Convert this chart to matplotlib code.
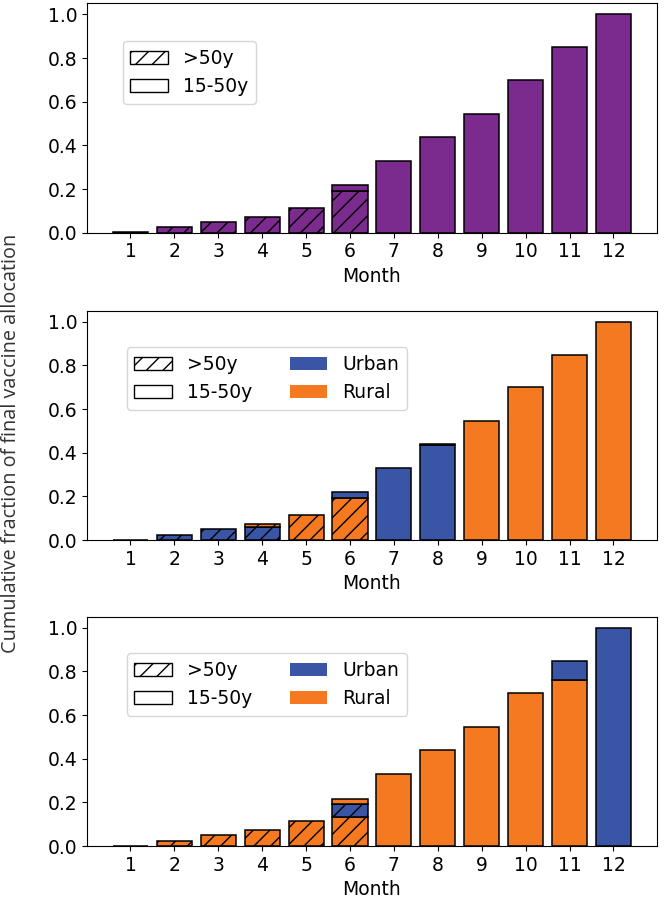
import matplotlib
matplotlib.use("Agg")
import matplotlib.pyplot as plt
from matplotlib.patches import Patch
import numpy as np

months = np.arange(1, 13)
month_labels = [str(m) for m in months]

# Panel 1: single group, layers (>50y, 15-50y)
p1_old = [0.002, 0.025, 0.050, 0.073, 0.113, 0.193, 0, 0, 0, 0, 0, 0]
p1_young = [0, 0, 0, 0, 0, 0.026, 0.330, 0.439, 0.543, 0.700, 0.849, 1.000]

# Panel 2: layers stacked in order (Urban >50y, Rural >50y, Urban 15-50y, Rural 15-50y)
p2_urban_old = [0.002, 0.025, 0.050, 0.058, 0, 0, 0, 0, 0, 0, 0, 0]
p2_rural_old = [0, 0, 0, 0.015, 0.113, 0.193, 0, 0, 0, 0, 0, 0]
p2_urban_young = [0, 0, 0, 0, 0, 0.026, 0.330, 0.433, 0, 0, 0, 0]
p2_rural_young = [0, 0, 0, 0, 0, 0, 0, 0.006, 0.543, 0.700, 0.849, 1.000]

# Panel 3: layers stacked in order (Rural >50y, Urban >50y, Rural 15-50y, Urban 15-50y)
p3_rural_old = [0.002, 0.025, 0.050, 0.073, 0.113, 0.132, 0, 0, 0, 0, 0, 0]
p3_urban_old = [0, 0, 0, 0, 0, 0.061, 0, 0, 0, 0, 0, 0]
p3_rural_young = [0, 0, 0, 0, 0, 0.023, 0.330, 0.439, 0.543, 0.700, 0.760, 0]
p3_urban_young = [0, 0, 0, 0, 0, 0, 0, 0, 0, 0, 0.089, 1.000]

PURPLE = "#7b2a8e"
BLUE = "#3a55a6"
ORANGE = "#f47920"

plt.rcParams["font.size"] = 13.5
plt.rcParams["hatch.linewidth"] = 1.0

fig = plt.figure(figsize=(6.64, 8.99), dpi=100)
W = 0.8584
H = 0.2550
axes = [
    fig.add_axes([0.131, 1 - 232.7 / 899, W, H]),
    fig.add_axes([0.131, 1 - 540.0 / 899, W, H]),
    fig.add_axes([0.131, 1 - 846.0 / 899, W, H]),
]


def draw_layers(ax, layers):
    bottom = np.zeros(len(months))
    for heights, color, hatched in layers:
        h = np.asarray(heights, dtype=float)
        mask = h > 0
        ax.bar(months[mask], h[mask], bottom=bottom[mask], width=0.8,
               color=color, edgecolor="black", linewidth=1.1,
               hatch="//" if hatched else None)
        bottom = bottom + h


draw_layers(axes[0], [(p1_old, PURPLE, True), (p1_young, PURPLE, False)])
draw_layers(axes[1], [(p2_urban_old, BLUE, True), (p2_rural_old, ORANGE, True),
                      (p2_urban_young, BLUE, False), (p2_rural_young, ORANGE, False)])
draw_layers(axes[2], [(p3_rural_old, ORANGE, True), (p3_urban_old, BLUE, True),
                      (p3_rural_young, ORANGE, False), (p3_urban_young, BLUE, False)])

age_handles = [Patch(facecolor="white", edgecolor="black", hatch="//", label=">50y"),
               Patch(facecolor="white", edgecolor="black", label="15-50y")]
region_handles = [Patch(facecolor=BLUE, label="Urban"),
                  Patch(facecolor=ORANGE, label="Rural")]

for i, ax in enumerate(axes):
    ax.set_xticks(months)
    ax.set_xticklabels(month_labels)
    ax.set_yticks([0.0, 0.2, 0.4, 0.6, 0.8, 1.0])
    ax.set_ylim(0, 1.05)
    ax.set_xlabel("Month")
    if i == 0:
        ax.legend(handles=age_handles, loc="upper left",
                  bbox_to_anchor=(0.063, 0.835), borderaxespad=0)
    else:
        ax.legend(handles=age_handles + region_handles, ncol=2, loc="upper left",
                  bbox_to_anchor=(0.07, 0.84), borderaxespad=0)

fig.text(0.017, 0.507, "Cumulative fraction of final vaccine allocation",
         rotation=90, va="center", ha="center", fontsize=14.3,
         family=["Open Sans", "DejaVu Sans"], color="#333333")

fig.savefig("out.png", dpi=100)
